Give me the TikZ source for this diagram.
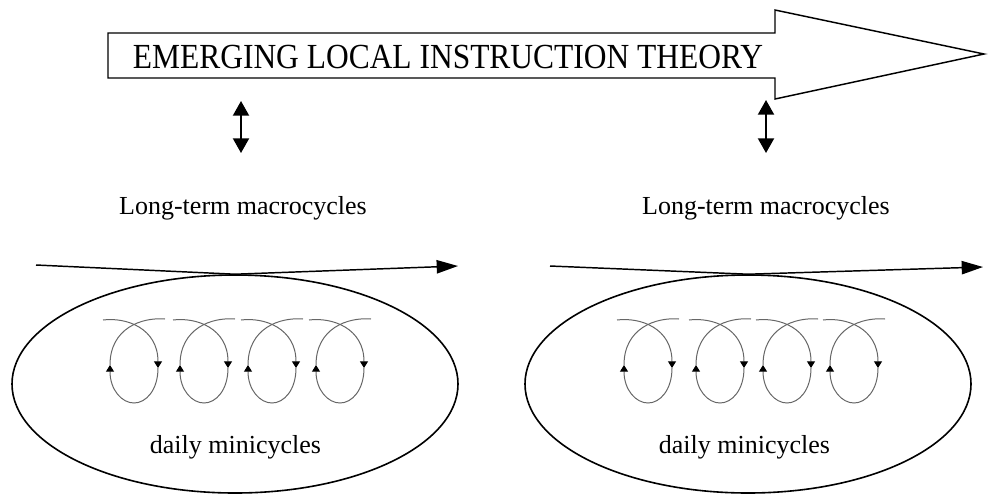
\documentclass[tikz,border=0pt]{standalone}
\usepackage{fontspec}
\setmainfont{Liberation Serif}
\usetikzlibrary{arrows.meta,shapes.geometric}
\tikzset{
  bigarrow/.style={draw=black, line width=1.1pt, line join=miter},
  titletext/.style={font=\fontsize{23.6}{28}\selectfont, anchor=base, inner sep=0pt},
  labeltext/.style={font=\fontsize{19.5}{23}\selectfont, anchor=base, inner sep=0pt},
  dblarrow/.style={line width=1.5pt, {Triangle[length=11pt,width=12pt]}-{Triangle[length=11pt,width=12pt]}},
  macroarrow/.style={line width=1.1pt, -{Triangle[length=16pt,width=10pt]}},
  cycleellipse/.style={ellipse, draw, line width=1.2pt, minimum width=334.5pt, minimum height=163.5pt, inner sep=0pt},
  loopline/.style={draw=black!60, line width=0.75pt},
  looptip/.style={-{Triangle[length=5pt,width=6pt,black]}}
}
\newcommand\mloop[1]{%
  \begin{scope}[shift={(#1,0)}]
    \draw[loopline,looptip] (-31,320) .. controls (-8,317) and (24,328) .. (24,368);
    \draw[loopline,looptip] (24,368) .. controls (24,390) and (12,403) .. (0,403) .. controls (-12,403) and (-24,390) .. (-24,365);
    \draw[loopline] (-24,365) .. controls (-24,328) and (8,317) .. (31,319);
  \end{scope}}
\begin{document}
\begin{tikzpicture}[x=0.75pt,y=-0.75pt]
\useasboundingbox (0,0) rectangle (988,494);
% big arrow
\draw[bigarrow] (108,33) -- (775,33) -- (775,10) -- (984,54) -- (775,99) -- (775,78) -- (108,78) -- cycle;
\node[titletext] (title) at (448,68) {\scalebox{1}[1.12]{EMERGING LOCAL INSTRUCTION THEORY}};
% double arrows
\coordinate (da1t) at (241,101);
\coordinate (da1b) at (241,153);
\coordinate (da2t) at (766,100);
\coordinate (da2b) at (766,153);
\draw[dblarrow] (da1t) -- (da1b);
\draw[dblarrow] (da2t) -- (da2b);
% labels
\node[labeltext] (lt1) at (243,214) {Long-term macrocycles};
\node[labeltext] (lt2) at (766,214) {Long-term macrocycles};
% ellipses
\node[cycleellipse] (e1) at (235,384) {};
\node[cycleellipse] (e2) at (748,384) {};
% macro arrows
\coordinate (m1s) at (36,265);
\coordinate (m1e) at (458,266);
\coordinate (m2s) at (550,266);
\coordinate (m2e) at (983,267);
\draw[macroarrow] (m1s) -- (e1.north) -- (m1e);
\draw[macroarrow] (m2s) -- (e2.north) -- (m2e);
% mini loops
\mloop{134}\mloop{204}\mloop{272}\mloop{340}
\mloop{648}\mloop{720}\mloop{787}\mloop{854}
% daily labels
\node[labeltext] (d1) at (235.5,453) {daily minicycles};
\node[labeltext] (d2) at (744.5,453) {daily minicycles};
\end{tikzpicture}
\end{document}
